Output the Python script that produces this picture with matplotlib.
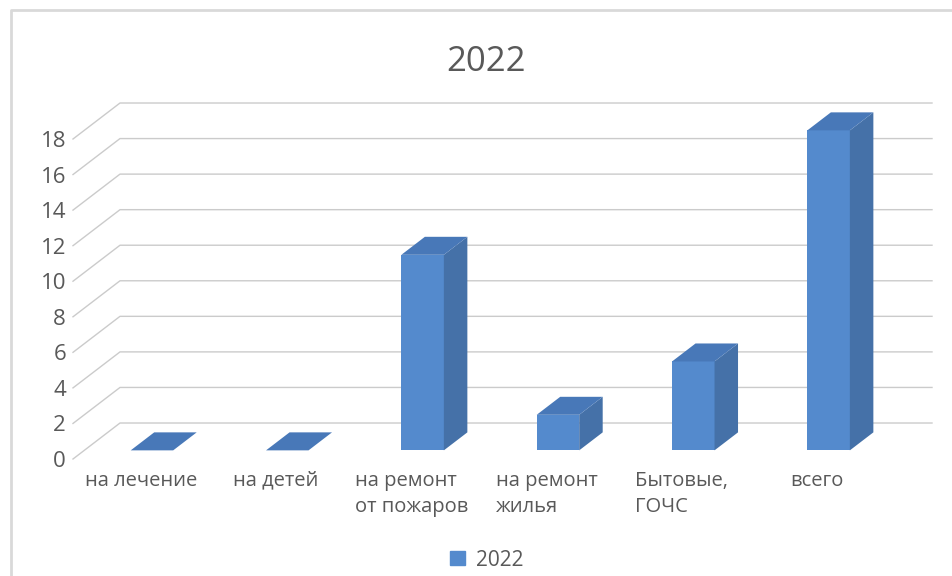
import numpy as np
import matplotlib
matplotlib.use("Agg")
import matplotlib.pyplot as plt
from matplotlib.patches import Patch

categories = ["на лечение", "на детей", "на ремонт\nот пожаров", "на ремонт\nжилья", "Бытовые,\nГОЧС", "всего"]
values = [0, 0, 11, 2, 5, 18]
y_ticks = [0, 2, 4, 6, 8, 10, 12, 14, 16, 18]
series_name = "2022"

front_color = "#548acd"
top_color = "#4878b8"
side_color = "#4571a8"
grid_color = "#cbcbcb"
text_color = "#595959"

# fake 3d: how far the back wall is shifted from the front plane, in data units
wall_dx = 47 / 135.33
wall_dy = 36 / 17.78
bar_width = 0.314
bar_start = 0.24
bar_end = 0.74

plt.rcParams["font.family"] = ["Open Sans", "DejaVu Sans"]

W, H = 953, 576
fig = plt.figure(figsize=(W / 100, H / 100), dpi=100)
ax = fig.add_axes([73 / W, 1 - 459 / H, 812 / W, 320 / H])
ax.set_xlim(-0.5, 5.5)
ax.set_ylim(0, 18)
for s in ax.spines.values():
	s.set_visible(False)

# grid: diagonal on the side wall, then flat along the back wall
for t in y_ticks:
	ax.plot([-0.5, -0.5 + wall_dx, 5.5 + wall_dx], [t, t + wall_dy, t + wall_dy],
		color=grid_color, lw=1.0, clip_on=False, zorder=1)

for i, v in enumerate(values):
	x0 = i - bar_width / 2 + bar_start * wall_dx
	x1 = x0 + bar_width
	y0 = bar_start * wall_dy
	ddx = (bar_end - bar_start) * wall_dx
	ddy = (bar_end - bar_start) * wall_dy
	top = v + y0
	if v > 0:
		ax.fill([x0, x1, x1, x0], [y0, y0, top, top], color=front_color, lw=0, clip_on=False, zorder=3)
		ax.fill([x1, x1 + ddx, x1 + ddx, x1], [y0, y0 + ddy, top + ddy, top], color=side_color, lw=0, clip_on=False, zorder=3)
	ax.fill([x0, x1, x1 + ddx, x0 + ddx], [top, top, top + ddy, top + ddy], color=top_color, lw=0, clip_on=False, zorder=3)

ax.set_yticks(y_ticks)
ax.set_yticklabels([str(t) for t in y_ticks], va="center_baseline")
ax.set_xticks(range(len(categories)))
ax.set_xticklabels(categories, multialignment="left", va="top", linespacing=1.42)
ax.tick_params(axis="y", length=0, pad=5, labelsize=16, labelcolor=text_color)
ax.tick_params(axis="x", length=0, pad=8.5, labelsize=14.5, labelcolor=text_color)

fig.text(486 / W, 1 - 62 / H, "2022", ha="center", va="center", fontsize=25, color=text_color)

fig.legend(handles=[Patch(color=front_color, label=series_name)], loc="center",
	bbox_to_anchor=(487 / W, 1 - 560 / H), frameon=False, fontsize=15, labelcolor=text_color,
	handlelength=0.68, handleheight=0.68, handletextpad=0.55)

# chart frame, only top and left are in the crop
fig.add_artist(plt.Line2D([10.5 / W, 10.5 / W, 1], [0, 1 - 9.5 / H, 1 - 9.5 / H], color="#d9d9d9", lw=2.0))

fig.savefig("out.png", dpi=100)
